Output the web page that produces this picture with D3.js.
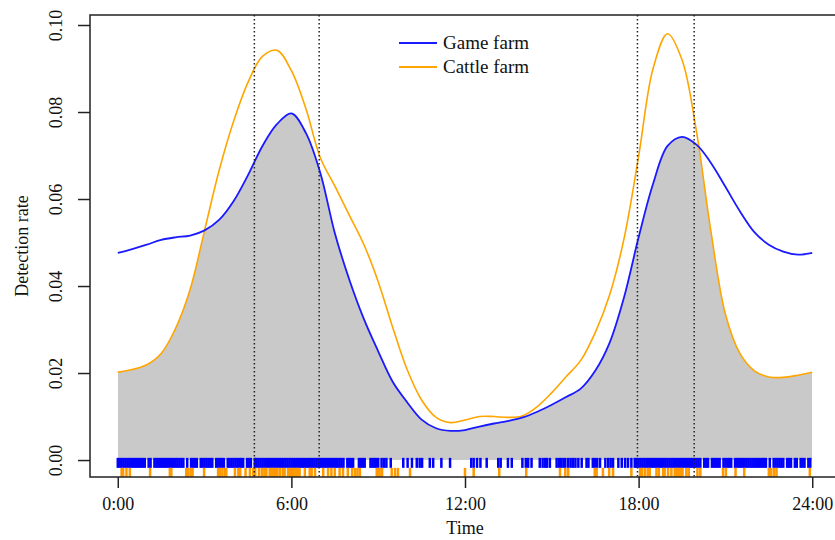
<!DOCTYPE html>
<html>
<head>
<meta charset="utf-8">
<script src="https://cdn.jsdelivr.net/npm/d3@7/dist/d3.min.js"></script>
<style>
  body { margin: 0; background: #fff; }
  text { font-family: "Liberation Serif", "Times New Roman", serif; fill: #111; }
</style>
</head>
<body>
<div id="chart"></div>
<script>
// time of day (hours) for the density curves
var hours = [0, 0.5, 1, 1.5, 2, 2.5, 3, 3.5, 4, 4.5, 5, 5.5, 6, 6.5, 7, 7.5, 8, 8.5, 9, 9.5,
  10, 10.5, 11, 11.5, 12, 12.5, 13, 13.5, 14, 14.5, 15, 15.5, 16, 16.5, 17, 17.5, 18, 18.5, 19, 19.5,
  20, 20.5, 21, 21.5, 22, 22.5, 23, 23.5, 24];

var gameFarm = [0.0476, 0.0485, 0.0495, 0.0506, 0.0512, 0.0516, 0.0528, 0.0552, 0.0595, 0.0655,
  0.0722, 0.0772, 0.0797, 0.0752, 0.0660, 0.0522, 0.0415, 0.0325, 0.0250, 0.0180,
  0.0133, 0.0093, 0.0073, 0.0067, 0.0069, 0.0077, 0.0084, 0.0090, 0.0098, 0.0111,
  0.0127, 0.0145, 0.0164, 0.0205, 0.0270, 0.0375, 0.0512, 0.0635, 0.0722, 0.0743,
  0.0725, 0.0683, 0.0628, 0.0572, 0.0524, 0.0495, 0.0479, 0.0472, 0.0476];

var cattleFarm = [0.0202, 0.0208, 0.0219, 0.0245, 0.0303, 0.0392, 0.0528, 0.0665, 0.0778, 0.0868,
  0.0928, 0.0942, 0.0895, 0.0808, 0.0695, 0.0630, 0.0563, 0.0496, 0.0410, 0.0305,
  0.0208, 0.0138, 0.0098, 0.0086, 0.0092, 0.0100, 0.0100, 0.0098, 0.0102, 0.0123,
  0.0155, 0.0192, 0.0229, 0.0293, 0.0380, 0.0510, 0.0698, 0.0900, 0.0980, 0.0920,
  0.0755, 0.0525, 0.0335, 0.0245, 0.0205, 0.0191, 0.0190, 0.0195, 0.0202];

// detection times (minutes after midnight) for the rugs
var gameTimes = [0, 4, 8, 12, 16, 20, 24, 28, 32, 36, 40, 44, 48, 52, 56, 64, 68, 76, 80, 84, 88, 92, 96,
  100, 104, 108, 112, 116, 120, 124, 128, 132, 136, 144, 152, 156, 160, 164, 172, 176, 180, 184, 188,
  192, 196, 204, 208, 212, 216, 220, 228, 232, 236, 240, 244, 248, 252, 256, 260, 268, 272, 276, 284,
  288, 292, 296, 300, 304, 308, 312, 316, 320, 324, 328, 332, 336, 340, 344, 348, 352, 356, 360, 364,
  368, 372, 376, 380, 384, 388, 392, 396, 400, 404, 408, 412, 416, 420, 424, 428, 432, 436, 440, 444,
  448, 452, 456, 460, 464, 468, 476, 480, 484, 488, 500, 504, 508, 512, 524, 528, 532, 536, 540, 547,
  552, 557, 566, 592, 601, 610, 620, 626, 631, 647, 654, 671, 689, 733, 738, 745, 752, 765, 789, 794,
  809, 817, 839, 846, 851, 858, 875, 881, 886, 890, 896, 910, 915, 919, 924, 928, 934, 939, 944, 949,
  955, 962, 972, 976, 985, 989, 994, 1000, 1011, 1017, 1022, 1027, 1038, 1045, 1052, 1058, 1065, 1072,
  1076, 1080, 1084, 1088, 1092, 1096, 1100, 1104, 1108, 1112, 1116, 1120, 1124, 1128, 1132, 1136, 1140,
  1144, 1148, 1152, 1156, 1160, 1164, 1168, 1172, 1176, 1180, 1184, 1188, 1192, 1196, 1200, 1204, 1208,
  1216, 1220, 1224, 1232, 1236, 1240, 1244, 1248, 1256, 1260, 1264, 1268, 1272, 1280, 1284, 1288, 1292,
  1296, 1300, 1304, 1308, 1312, 1316, 1320, 1324, 1328, 1332, 1336, 1340, 1344, 1352, 1360, 1364, 1368,
  1372, 1376, 1380, 1388, 1392, 1396, 1404, 1408, 1416, 1420, 1424, 1432, 1436];

var cattleTimes = [8, 11, 18, 25, 67, 108, 111, 142, 146, 151, 155, 179, 208, 212, 217, 222, 225, 243,
  250, 254, 265, 274, 281, 285, 293, 299, 304, 308, 315, 318, 321, 324, 328, 331, 336, 342, 346, 353,
  357, 361, 365, 369, 373, 377, 388, 398, 402, 409, 426, 436, 443, 450, 460, 467, 477, 486, 492, 497,
  502, 537, 540, 543, 548, 568, 575, 581, 606, 720, 738, 791, 847, 917, 928, 934, 989, 993, 1006, 1019,
  1027, 1065, 1083, 1087, 1093, 1099, 1103, 1117, 1122, 1131, 1134, 1141, 1148, 1155, 1158, 1161, 1164,
  1168, 1171, 1179, 1184, 1202, 1208, 1255, 1261, 1281, 1299, 1350, 1355, 1361, 1366, 1435];

var xTicks = [0, 6, 12, 18, 24];
var xTickLabels = ["0:00", "6:00", "12:00", "18:00", "24:00"];
var yTicks = [0, 0.02, 0.04, 0.06, 0.08, 0.10];
var refLines = [4.72, 6.96, 17.96, 19.92];
var seriesNames = ["Game farm", "Cattle farm"];
var colors = ["#1a1aff", "#ffa500"];
var rugColors = ["#0000ff", "#ff9900"];

var width = 835, height = 540,
    margin = {top: 15, left: 90, bottom: 63},
    plotBottom = height - margin.bottom;

var svg = d3.select("#chart").append("svg")
    .attr("width", width)
    .attr("height", height);

var x = d3.scaleLinear().domain([-0.96, 24.96]).range([margin.left, margin.left + 750]);
var y = d3.scaleLinear().domain([-0.0039, 0.1023]).range([plotBottom, margin.top]);

var gameData = hours.map(function(h, i) { return {h: h, v: gameFarm[i]}; });
var cattleData = hours.map(function(h, i) { return {h: h, v: cattleFarm[i]}; });

var line = d3.line()
    .x(function(d) { return x(d.h); })
    .y(function(d) { return y(d.v); })
    .curve(d3.curveCatmullRom);

var area = d3.area()
    .x(function(d) { return x(d.h); })
    .y0(y(0))
    .y1(function(d) { return y(d.v); })
    .curve(d3.curveCatmullRom);

// overlap: area under game farm, clipped by area under cattle farm
svg.append("clipPath")
    .attr("id", "underCattle")
  .append("path")
    .attr("d", area(cattleData));

svg.append("path")
    .attr("d", area(gameData))
    .attr("clip-path", "url(#underCattle)")
    .style("fill", "#c9c9c9");

// rugs
var rugBands = [[0.0005, -0.0018], [-0.0018, -0.0039]];
[gameTimes, cattleTimes].forEach(function(times, k) {
  svg.append("g")
    .selectAll("line")
    .data(times)
    .enter().append("line")
    .attr("x1", function(d) { return x(d / 60); })
    .attr("x2", function(d) { return x(d / 60); })
    .attr("y1", y(rugBands[k][0]))
    .attr("y2", y(rugBands[k][1]))
    .style("stroke", rugColors[k])
    .style("stroke-width", 2.5);
});

svg.append("path")
    .attr("d", line(cattleData))
    .style("fill", "none")
    .style("stroke", colors[1])
    .style("stroke-width", 1.6);

svg.append("path")
    .attr("d", line(gameData))
    .style("fill", "none")
    .style("stroke", colors[0])
    .style("stroke-width", 1.8);

// dotted reference lines
svg.selectAll(".ref")
    .data(refLines)
    .enter().append("line")
    .attr("class", "ref")
    .attr("x1", function(d) { return x(d); })
    .attr("x2", function(d) { return x(d); })
    .attr("y1", margin.top)
    .attr("y2", plotBottom)
    .style("stroke", "#222")
    .style("stroke-width", 1.5)
    .style("stroke-dasharray", "1.5,2.5");

// box
svg.append("rect")
    .attr("x", margin.left)
    .attr("y", margin.top)
    .attr("width", 750)
    .attr("height", plotBottom - margin.top)
    .style("fill", "none")
    .style("stroke", "#222")
    .style("stroke-width", 1.5);

// axes
var xAxis = d3.axisBottom(x)
    .tickValues(xTicks)
    .tickSize(11)
    .tickPadding(9)
    .tickFormat(function(d, i) { return xTickLabels[i]; });

var gx = svg.append("g")
    .attr("transform", "translate(0," + plotBottom + ")")
    .call(xAxis);
gx.select(".domain").remove();
gx.selectAll("line").style("stroke", "#222").style("stroke-width", 1.5);
gx.selectAll("text")
    .style("font-size", "18px")
    .style("font-family", "Liberation Serif, serif")
    .style("fill", "#111");

var yAxis = d3.axisLeft(y)
    .tickValues(yTicks)
    .tickSize(12)
    .tickFormat(d3.format(".2f"));

var gy = svg.append("g")
    .attr("transform", "translate(" + margin.left + ",0)")
    .call(yAxis);
gy.select(".domain").remove();
gy.selectAll("line").style("stroke", "#222").style("stroke-width", 1.5);
gy.selectAll("text")
    .attr("x", null)
    .attr("dy", null)
    .attr("transform", "translate(-28,0) rotate(-90)")
    .style("text-anchor", "middle")
    .style("font-size", "18px")
    .style("font-family", "Liberation Serif, serif")
    .style("fill", "#111");

svg.append("text")
    .attr("x", x(12))
    .attr("y", 534)
    .style("text-anchor", "middle")
    .style("font-size", "18px")
    .text("Time");

svg.append("text")
    .attr("transform", "translate(28," + ((margin.top + plotBottom) / 2) + ") rotate(-90)")
    .style("text-anchor", "middle")
    .style("font-size", "18px")
    .text("Detection rate");

// legend
var legend = svg.selectAll(".legend")
    .data(seriesNames)
    .enter().append("g")
    .attr("class", "legend")
    .attr("transform", function(d, i) { return "translate(399," + (43 + i * 24) + ")"; });

legend.append("line")
    .attr("x1", 0)
    .attr("x2", 38)
    .style("stroke", function(d, i) { return colors[i]; })
    .style("stroke-width", 1.8);

legend.append("text")
    .attr("x", 44)
    .attr("dy", "0.33em")
    .style("font-size", "19px")
    .text(function(d) { return d; });
</script>
</body>
</html>
